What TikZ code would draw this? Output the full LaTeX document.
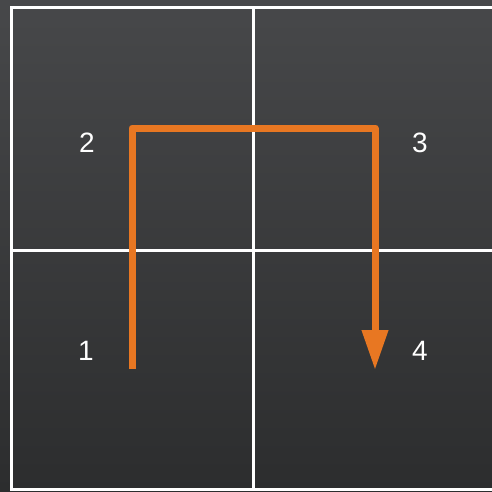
\documentclass[tikz,border=0pt]{standalone}
\usepackage{fontspec}
\setmainfont{Liberation Sans}
\usetikzlibrary{arrows.meta}
\definecolor{bgtop}{HTML}{47484A}
\definecolor{bgbot}{HTML}{2C2D2E}
\definecolor{pathorange}{HTML}{E87722}
\tikzset{
  gridline/.style={draw=white, line width=3pt},
  celllabel/.style={text=white, font=\fontsize{28}{28}\selectfont, inner sep=0pt, anchor=center},
  route/.style={draw=pathorange, line width=7pt, line join=round, -{Triangle[length=40pt,width=25pt]}}
}
\begin{document}
\begin{tikzpicture}[x=1pt,y=-1pt]
\useasboundingbox (0,0) rectangle (492,491);
\shade[top color=bgtop, bottom color=bgbot] (0,0) rectangle (492,491);
% grid
\draw[gridline] (494,7) -- (11.5,7) -- (11.5,489.5) -- (494,489.5);
\draw[gridline] (253.5,7) -- (253.5,489.5);
\draw[gridline] (11.5,250) -- (494,250);
% labels
\node[celllabel] (l2) at (87,143) {2};
\node[celllabel] (l3) at (420,143) {3};
\node[celllabel] (l1) at (86,351) {1};
\node[celllabel] (l4) at (420,351) {4};
% route
\coordinate (start) at (132,369);
\coordinate (c1) at (132,128);
\coordinate (c2) at (375,128);
\coordinate (stop) at (375,370);
\draw[route] (start) -- (c1) -- (c2) -- (stop);
\end{tikzpicture}
\end{document}
